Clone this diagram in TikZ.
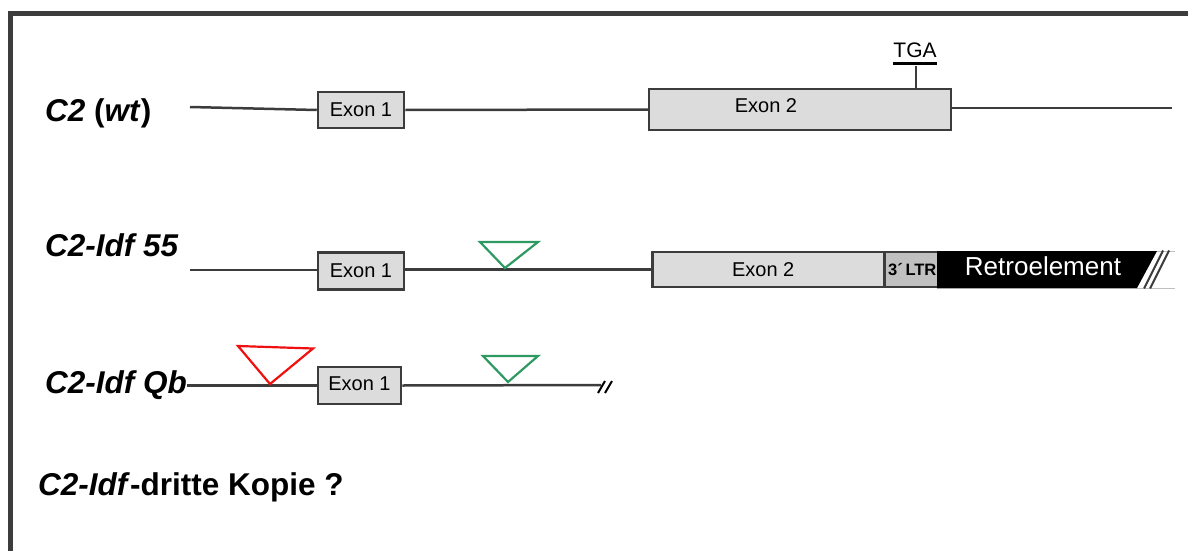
\documentclass[tikz,border=0pt]{standalone}
\usepackage{fontspec}
\setmainfont{Liberation Sans}
\definecolor{frame}{HTML}{3C3C3C}
\definecolor{boxfill}{HTML}{DCDCDC}
\definecolor{ltrfill}{HTML}{C0C0C0}
\definecolor{grn}{HTML}{2E9A62}
\definecolor{rd}{HTML}{F01010}
\tikzset{
  dna/.style={draw=frame, line width=2.5pt},
  exon/.style={draw=frame, fill=boxfill, line width=2.5pt, rectangle, inner sep=0pt,
    font=\fontsize{20}{22}\selectfont},
  lbl/.style={anchor=base west, inner sep=0pt, font=\fontsize{31.5}{33}\selectfont\bfseries},
  ins/.style={line width=2.2pt, line join=miter},
}
\begin{document}
\begin{tikzpicture}[x=1pt,y=-1pt]
\useasboundingbox (0,0) rectangle (1188,551);
% frame
\draw[frame, line width=5pt] (10.5,551) -- (10.5,13.5) -- (1188,13.5);

% ---------- row 1: C2 (wt)
\node[lbl] (l1) at (45,121) {\textit{C2} (\textit{wt})};
\coordinate (r1s) at (190,107);
\node[exon, minimum width=86pt, minimum height=36pt] (r1e1) at (361,110) {Exon 1};
\node[exon, minimum width=302pt, minimum height=41pt] (r1e2) at (800,109.5) {};
\node[inner sep=0pt, font=\fontsize{20}{22}\selectfont] (r1e2t) at (766,106) {Exon 2};
\coordinate (r1end) at (1172,108);
\draw[dna] (r1s) -- (r1e1.west);
\draw[dna] (r1e1.east) -- (r1e2.west);
\draw[dna] (r1e2.east |- r1end) -- (r1end);
% TGA
\coordinate (tgatick) at (916,89);
\node[anchor=base, inner sep=0pt, font=\fontsize{21}{22}\selectfont] (tga) at (915,58) {TGA};
\draw[frame, line width=2.2pt] (tgatick) -- (916,66);
\draw[black, line width=2.2pt] (893,63.5) -- (937,63.5);

% ---------- row 2: C2-Idf 55
\node[lbl] (l2) at (45,256) {\textit{C2-Idf 55}};
\coordinate (r2s) at (190,270);
\node[exon, minimum width=86pt, minimum height=37pt] (r2e1) at (361,271) {Exon 1};
\node[exon, minimum width=232pt, minimum height=35pt, anchor=west] (r2e2) at (651,269.5) {\hspace*{-10pt}Exon 2};
\node[draw=frame, fill=ltrfill, line width=2.5pt, minimum width=54pt, minimum height=35pt,
  inner sep=0pt, anchor=west, font=\fontsize{16.5}{17}\selectfont\bfseries] (ltr) at (883,269.5) {\hspace*{2pt}3\textasciiacute\,LTR};
\draw[dna] (r2s) -- (r2e1.west |- r2s);
\draw[dna] (r2e1.east |- 0,269.5) -- (r2e2.west);
% green insertion
\draw[grn, ins] (480,242) -- (538,242) -- (505,268) -- cycle;
% retroelement
\draw[gray!50, line width=0.8pt] (937,251) -- (1175,251);
\draw[gray!50, line width=0.8pt] (937,288) -- (1175,288);
\fill[black] (937,251) -- (1157,251) -- (1137,288) -- (937,288) -- cycle;
\draw[frame, line width=2pt] (1144,288.5) -- (1163,250.5);
\draw[frame, line width=2pt] (1150,288.5) -- (1169,250.5);
\node[white, inner sep=0pt, font=\fontsize{26}{28}\selectfont] (retro) at (1043,266) {Retroelement};

% ---------- row 3: C2-Idf Qb
\node[lbl] (l3) at (45,393) {\textit{C2-Idf Qb}};
\node[exon, minimum width=83pt, minimum height=37pt] (r3e1) at (359.5,385.5) {\raisebox{4pt}{Exon 1}};
\coordinate (r3end) at (601,385);
\draw[dna] (l3.east |- r3e1.west) -- (r3e1.west);
\draw[dna] (r3e1.east) -- (r3end);
\draw[black, line width=2pt] (598,393) -- (605,381);
\draw[black, line width=2pt] (605,393) -- (612,381);
% insertions
\draw[rd, ins] (238,346) -- (313,348.5) -- (270,384) -- cycle;
\draw[grn, ins] (483,356) -- (538,356) -- (508,382) -- cycle;

% ---------- dritte Kopie
\node[lbl] (l4) at (38,495) {\textit{C2-Idf}-dritte Kopie ?};
\end{tikzpicture}
\end{document}
